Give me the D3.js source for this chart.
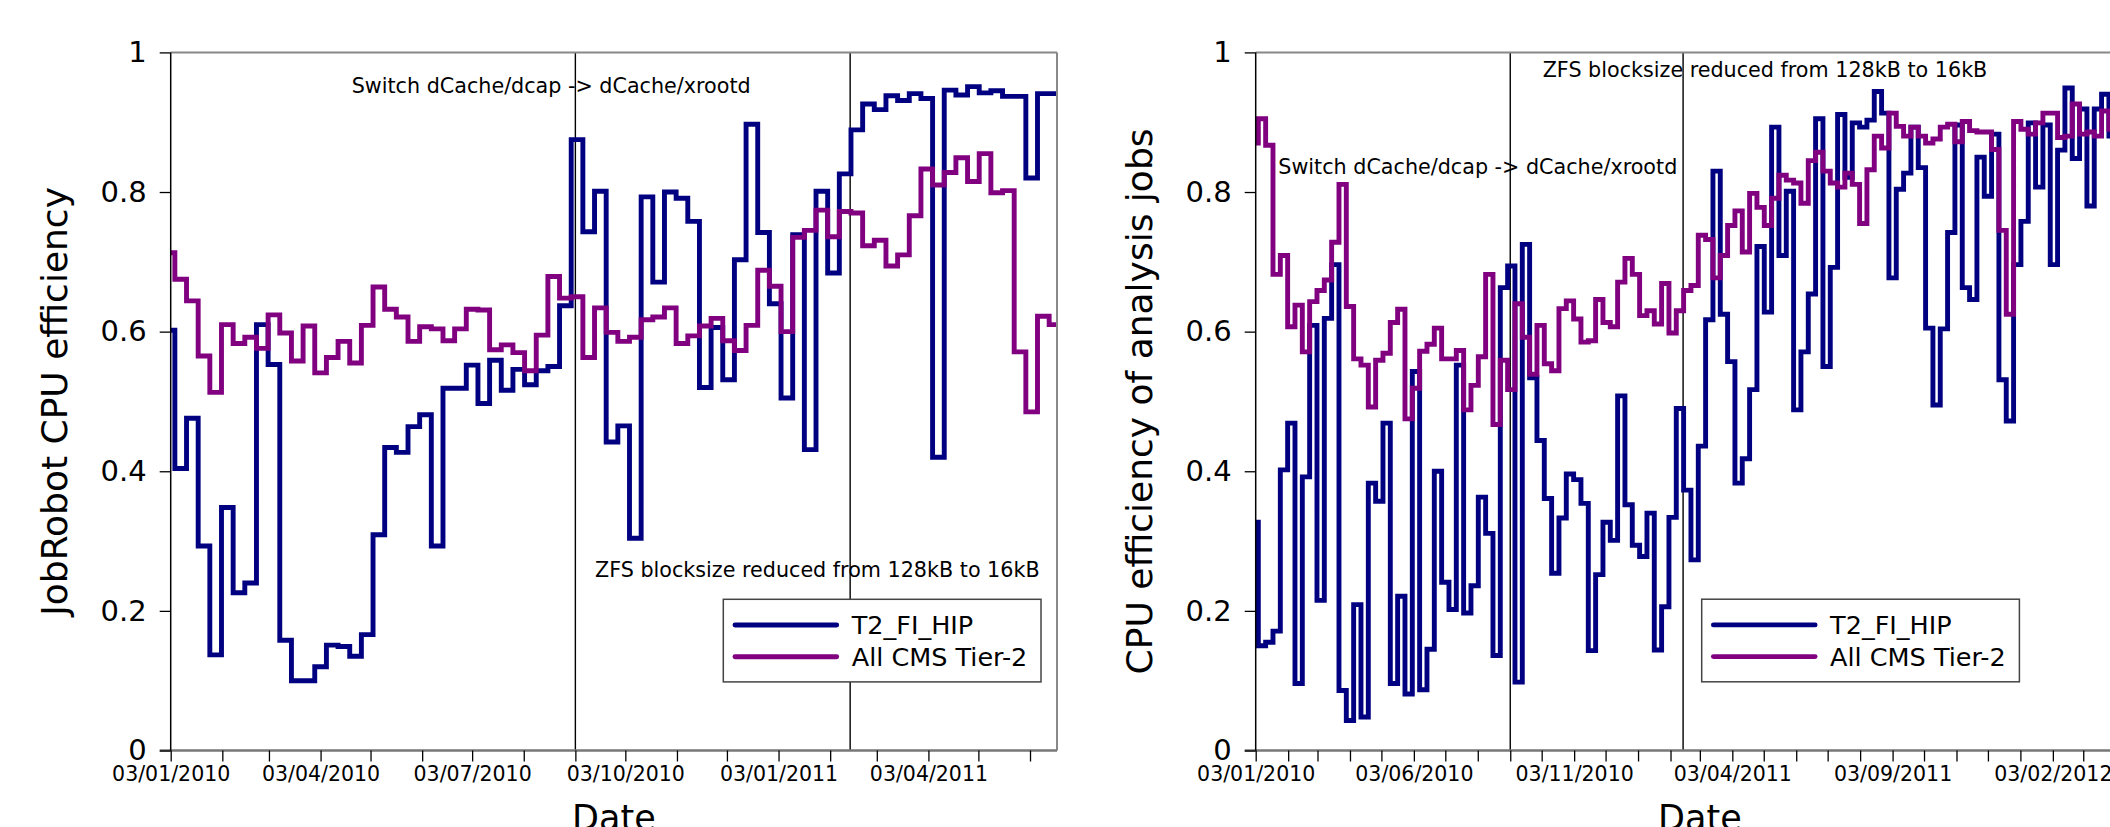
<!DOCTYPE html>
<html><head><meta charset="utf-8">
<script src="https://cdn.jsdelivr.net/npm/d3@7/dist/d3.min.js"></script>
<style>
body{margin:0;background:#fff;overflow:hidden}
svg{display:block;font-family:"DejaVu Sans",sans-serif}
</style>
</head><body>
<svg id="chart" width="2110" height="827"></svg>
<script>
// ---------- DATA ----------
// weekly bins; first bin starts on this date (UTC), each bin is 7 days
const binStart = Date.UTC(2009, 11, 29, 12);

const seriesNames = ["T2_FI_HIP", "All CMS Tier-2"];
const seriesColors = ["#000080", "#800080"];

// Left panel: JobRobot CPU efficiency
const leftHIP = [0.602,0.404,0.476,0.293,0.137,0.348,0.226,0.240,0.610,0.553,
  0.158,0.100,0.100,0.120,0.151,0.149,0.135,0.166,0.309,0.434,
  0.427,0.464,0.481,0.293,0.519,0.519,0.552,0.497,0.559,0.516,
  0.546,0.524,0.544,0.550,0.637,0.875,0.743,0.801,0.442,0.465,
  0.304,0.793,0.671,0.800,0.791,0.758,0.520,0.606,0.531,0.703,
  0.897,0.742,0.640,0.505,0.739,0.431,0.801,0.684,0.826,0.889,
  0.926,0.918,0.938,0.931,0.941,0.934,0.420,0.946,0.939,0.951,
  0.942,0.945,0.937,0.937,0.820,0.941,0.941];
const leftT2 = [0.713,0.675,0.644,0.565,0.513,0.610,0.583,0.592,0.576,0.624,
  0.598,0.558,0.608,0.541,0.563,0.586,0.555,0.609,0.664,0.632,
  0.621,0.586,0.607,0.604,0.587,0.604,0.632,0.631,0.574,0.581,
  0.570,0.544,0.595,0.679,0.648,0.650,0.563,0.634,0.599,0.586,
  0.592,0.617,0.621,0.634,0.583,0.594,0.608,0.619,0.587,0.573,
  0.609,0.688,0.665,0.600,0.735,0.745,0.774,0.736,0.772,0.770,
  0.723,0.731,0.694,0.710,0.766,0.833,0.810,0.828,0.849,0.815,
  0.855,0.799,0.802,0.571,0.485,0.622,0.610];

// Right panel: CPU efficiency of analysis jobs
const rightHIP = [0.327,0.150,0.155,0.171,0.402,0.469,0.096,0.392,0.609,0.215,
  0.619,0.696,0.086,0.043,0.209,0.048,0.383,0.357,0.469,0.096,
  0.221,0.081,0.543,0.087,0.145,0.400,0.241,0.202,0.552,0.197,
  0.236,0.363,0.311,0.136,0.663,0.694,0.098,0.725,0.534,0.444,
  0.361,0.254,0.333,0.396,0.388,0.354,0.143,0.252,0.327,0.301,
  0.508,0.352,0.294,0.278,0.340,0.144,0.206,0.334,0.490,0.373,
  0.273,0.436,0.617,0.830,0.625,0.557,0.383,0.418,0.517,0.722,
  0.628,0.893,0.709,0.801,0.488,0.571,0.654,0.905,0.550,0.692,
  0.911,0.821,0.899,0.893,0.903,0.944,0.913,0.677,0.804,0.827,
  0.893,0.835,0.605,0.495,0.604,0.742,0.896,0.663,0.646,0.850,
  0.794,0.883,0.531,0.472,0.696,0.758,0.899,0.807,0.896,0.696,
  0.860,0.949,0.848,0.919,0.780,0.919,0.940,0.880];
const rightT2 = [0.870,0.905,0.867,0.682,0.709,0.607,0.638,0.571,0.643,0.659,
  0.674,0.728,0.811,0.636,0.561,0.552,0.492,0.559,0.569,0.613,
  0.632,0.475,0.519,0.572,0.582,0.605,0.561,0.561,0.573,0.488,
  0.523,0.564,0.682,0.467,0.559,0.517,0.640,0.592,0.539,0.609,
  0.554,0.544,0.633,0.644,0.618,0.585,0.587,0.646,0.613,0.607,
  0.671,0.705,0.682,0.623,0.630,0.611,0.669,0.598,0.630,0.659,
  0.666,0.738,0.732,0.677,0.709,0.752,0.773,0.714,0.798,0.778,
  0.752,0.791,0.824,0.817,0.813,0.784,0.845,0.857,0.830,0.813,
  0.807,0.827,0.811,0.755,0.832,0.880,0.863,0.913,0.894,0.880,
  0.893,0.880,0.870,0.876,0.893,0.897,0.872,0.901,0.888,0.886,
  0.886,0.861,0.745,0.625,0.901,0.890,0.883,0.899,0.913,0.913,
  0.878,0.880,0.926,0.883,0.886,0.880,0.916,0.890];

const yTickValues = [0, 0.2, 0.4, 0.6, 0.8, 1];
const yTickLabels = ["0", "0.2", "0.4", "0.6", "0.8", "1"];

const eventDates = [Date.UTC(2010, 8, 3), Date.UTC(2011, 1, 15)];
const eventTexts = ["Switch dCache/dcap -> dCache/xrootd", "ZFS blocksize reduced from 128kB to 16kB"];

// ---------- LAYOUT ----------
const yTop = 52.4, yBot = 750.5;
const panels = [
  { x0: 170.7, x1: 1057, start: Date.UTC(2010,0,3), end: Date.UTC(2011,5,19,5),
    hip: leftHIP, t2: leftT2, ylabel: "JobRobot CPU efficiency", labelEvery: 3,
    ann: [{x: 351.7, y: 93.3}, {x: 595, y: 576.7}], legend: {x: 723.3, y: 599.3} },
  { x0: 1255.7, x1: 2144, start: Date.UTC(2010,0,3), end: Date.UTC(2012,3,30),
    hip: rightHIP, t2: rightT2, ylabel: "CPU efficiency of analysis jobs", labelEvery: 5,
    ann: [{x: 1278.3, y: 174}, {x: 1542.7, y: 76.7}], legend: {x: 1701.7, y: 599.2} }
];

const svg = d3.select("#chart");
const fmt = d3.utcFormat("%d/%m/%Y");

panels.forEach((p, pi) => {
  const x = d3.scaleUtc().domain([p.start, p.end]).range([p.x0, p.x1]);
  const y = d3.scaleLinear().domain([0, 1]).range([yBot, yTop]);
  const g = svg.append("g");

  const clipId = "clip" + pi;
  svg.append("defs").append("clipPath").attr("id", clipId)
    .append("rect").attr("x", p.x0).attr("y", yTop - 5).attr("width", p.x1 - p.x0).attr("height", yBot - yTop + 10);

  // event lines
  eventDates.forEach(d => {
    g.append("line").attr("x1", x(d)).attr("x2", x(d)).attr("y1", yTop).attr("y2", yBot)
      .attr("stroke", "#000").attr("stroke-width", 1.4);
  });

  // series
  const line = d3.line().curve(d3.curveStepAfter).x(d => x(d[0])).y(d => y(d[1]));
  [p.hip, p.t2].forEach((vals, si) => {
    const pts = vals.map((v, i) => [d3.utcDay.offset(binStart, 7 * i), v]);
    pts.push([d3.utcDay.offset(binStart, 7 * vals.length), vals[vals.length - 1]]);
    g.append("path").datum(pts).attr("d", line)
      .attr("clip-path", `url(#${clipId})`)
      .attr("fill", "none").attr("stroke", seriesColors[si]).attr("stroke-width", 4.9)
      .attr("stroke-linejoin", "miter");
  });

  // frame
  g.append("line").attr("x1", p.x0).attr("x2", p.x1).attr("y1", yTop).attr("y2", yTop).attr("stroke", "#888").attr("stroke-width", 2);
  g.append("line").attr("x1", p.x1).attr("x2", p.x1).attr("y1", yTop).attr("y2", yBot).attr("stroke", "#888").attr("stroke-width", 2);
  g.append("line").attr("x1", p.x0 - 11).attr("x2", p.x1).attr("y1", yBot).attr("y2", yBot).attr("stroke", "#777").attr("stroke-width", 2.6);

  // y axis
  const yAxis = d3.axisLeft(y).tickValues(yTickValues).tickFormat((d, i) => yTickLabels[i]).tickSize(11).tickPadding(13);
  const ya = g.append("g").attr("transform", `translate(${p.x0},0)`).call(yAxis);
  ya.select(".domain").attr("stroke", "#000").attr("stroke-width", 1.5).attr("d", `M0,${yTop}V${yBot}`);
  ya.selectAll(".tick line").attr("stroke", "#000").attr("stroke-width", 1.3);
  ya.selectAll(".tick text").attr("font-size", 29).attr("font-family", "DejaVu Sans").attr("fill", "#000");

  // x axis
  const months = d3.utcMonth.range(d3.utcMonth.floor(p.start), p.end).map(m => d3.utcDay.offset(m, 2)).filter(d => d >= p.start && d <= p.end);
  const xAxis = d3.axisBottom(x).tickValues(months)
    .tickFormat((d, i) => (i % p.labelEvery === 0 ? fmt(d) : "")).tickSize(11).tickPadding(5);
  const xa = g.append("g").attr("transform", `translate(0,${yBot})`).call(xAxis);
  xa.select(".domain").remove();
  xa.selectAll(".tick line").attr("stroke", "#000").attr("stroke-width", 1.3);
  xa.selectAll(".tick text").attr("font-size", 20.5).attr("font-family", "DejaVu Sans").attr("fill", "#000");

  // axis titles
  g.append("text").attr("x", (p.x0 + p.x1) / 2).attr("y", 830).attr("text-anchor", "middle")
    .attr("font-size", 35).text("Date");
  const cy = (yTop + yBot) / 2;
  g.append("text").attr("transform", `translate(${p.x0 - 104},${cy}) rotate(-90)`)
    .attr("text-anchor", "middle").attr("font-size", 36).text(p.ylabel);

  // annotations
  p.ann.forEach((a, i) => {
    g.append("text").attr("x", a.x).attr("y", a.y).attr("font-size", 20.7).text(eventTexts[i]);
  });

  // legend
  const L = p.legend;
  g.append("rect").attr("x", L.x).attr("y", L.y).attr("width", 317.7).attr("height", 82.6)
    .attr("fill", "#fff").attr("stroke", "#444").attr("stroke-width", 1.5);
  seriesNames.forEach((n, i) => {
    const ly = L.y + 25.7 + i * 31.7;
    g.append("line").attr("x1", L.x + 11.7).attr("x2", L.x + 113.4).attr("y1", ly).attr("y2", ly)
      .attr("stroke", seriesColors[i]).attr("stroke-width", 4.9).attr("stroke-linecap", "round");
    g.append("text").attr("x", L.x + 128.4).attr("y", ly + 9.3).attr("font-size", 25.5).text(n);
  });
});
</script>
</body></html>
